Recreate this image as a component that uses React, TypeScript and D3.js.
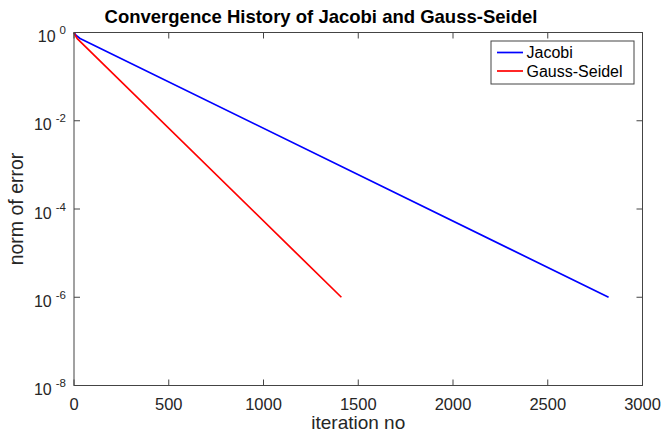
import React from "react";
import * as d3 from "d3";

const W = 663;
const H = 436;

// Data
const jacobiIter = [0, 10, 32, 2821];
const jacobiErr = [1, 0.87, 0.73, 1e-6];
const gsIter = [0, 6, 17, 1411];
const gsErr = [1, 0.87, 0.73, 1e-6];

const xTicks = [0, 500, 1000, 1500, 2000, 2500, 3000];
const yTickExps = [0, -2, -4, -6, -8];

const seriesNames = ["Jacobi", "Gauss-Seidel"];
const seriesColors = ["#0000ff", "#ff0000"];

const titleText = "Convergence History of Jacobi and Gauss-Seidel";
const xLabelText = "iteration no";
const yLabelText = "norm of error";

const FONT = "'Liberation Sans', Arial, Helvetica, sans-serif";

export default function App() {
  const left = 74;
  const right = 642.5;
  const top = 32.5;
  const bottom = 385.5;

  const x = d3.scaleLinear().domain([0, 3000]).range([left, right]);
  const y = d3.scaleLog().domain([1e-8, 1]).range([bottom, top]);

  const line = d3
    .line<[number, number]>()
    .x((d) => x(d[0]))
    .y((d) => y(d[1]));

  const series = [
    jacobiIter.map((it, i) => [it, jacobiErr[i]] as [number, number]),
    gsIter.map((it, i) => [it, gsErr[i]] as [number, number]),
  ];

  const axisColor = "#444444";
  const textColor = "#262626";
  const tickLen = 6;

  return (
    <svg
      width={W}
      height={H}
      style={{ position: "absolute", left: 0, top: 0, background: "#fff" }}
      fontFamily={FONT}
    >
      <rect x={0} y={0} width={W} height={H} fill="#ffffff" />
      {/* data lines */}
      {series.map((s, i) => (
        <path
          key={i}
          d={line(s) || ""}
          fill="none"
          stroke={seriesColors[i]}
          strokeWidth={1.7}
          strokeLinejoin="round"
        />
      ))}
      {/* box */}
      <rect
        x={left}
        y={top}
        width={right - left}
        height={bottom - top}
        fill="none"
        stroke={axisColor}
        strokeWidth={1}
      />
      {/* x ticks */}
      {xTicks.map((t) => (
        <g key={"x" + t}>
          <line x1={x(t)} x2={x(t)} y1={bottom} y2={bottom - tickLen} stroke={axisColor} />
          <line x1={x(t)} x2={x(t)} y1={top} y2={top + tickLen} stroke={axisColor} />
          <text
            x={x(t)}
            y={bottom + 24.5}
            textAnchor="middle"
            fontSize={16.5}
            fill={textColor}
          >
            {t}
          </text>
        </g>
      ))}
      {/* y ticks */}
      {yTickExps.map((e) => {
        const v = Math.pow(10, e);
        const yy = y(v);
        return (
          <g key={"y" + e}>
            <line x1={left} x2={left + tickLen} y1={yy} y2={yy} stroke={axisColor} />
            <line x1={right} x2={right - tickLen} y1={yy} y2={yy} stroke={axisColor} />
            <text x={left - 8} y={yy + 9.5} textAnchor="end" fill={textColor}>
              <tspan fontSize={16}>10</tspan>
              <tspan fontSize={11.5} dx={4} dy={-8}>
                {String(e)}
              </tspan>
            </text>
          </g>
        );
      })}
      {/* title */}
      <text
        x={321}
        y={23}
        textAnchor="middle"
        fontSize={18.5}
        fontWeight="bold"
        fill="#000"
      >
        {titleText}
      </text>
      {/* x label */}
      <text
        x={(left + right) / 2}
        y={429}
        textAnchor="middle"
        fontSize={19}
        fill={textColor}
      >
        {xLabelText}
      </text>
      {/* y label */}
      <text
        transform={`translate(${23},${(top + bottom) / 2}) rotate(-90)`}
        textAnchor="middle"
        fontSize={19.5}
        fill={textColor}
      >
        {yLabelText}
      </text>
      {/* legend */}
      <g>
        <rect x={491} y={41} width={143} height={43} fill="#fff" stroke={axisColor} strokeWidth={1} />
        {seriesNames.map((n, i) => (
          <g key={n}>
            <line
              x1={497}
              x2={523}
              y1={52.5 + i * 18.5}
              y2={52.5 + i * 18.5}
              stroke={seriesColors[i]}
              strokeWidth={1.7}
            />
            <text x={526.5} y={58 + i * 18.8} fontSize={16} fill="#000">
              {n}
            </text>
          </g>
        ))}
      </g>
    </svg>
  );
}
